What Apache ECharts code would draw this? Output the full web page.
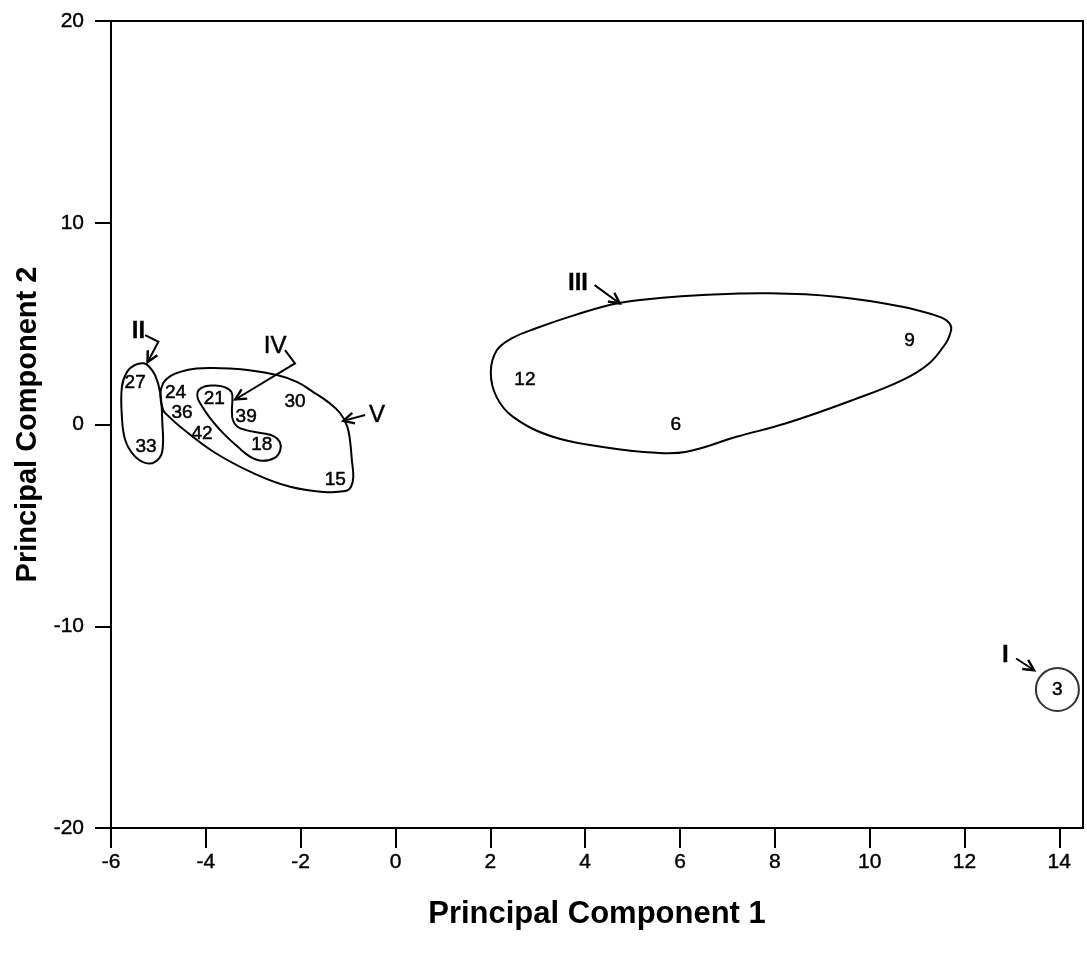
<!DOCTYPE html>
<html>
<head>
<meta charset="utf-8">
<script src="https://cdn.jsdelivr.net/npm/echarts@6/dist/echarts.min.js"></script>
<style>html,body{margin:0;padding:0;background:#fff}#c{width:1087px;height:956px}</style>
</head>
<body>
<div id="c"></div>
<script>
// ---- data ----
const xTicks = [-6, -4, -2, 0, 2, 4, 6, 8, 10, 12, 14];
const yTicks = [-20, -10, 0, 10, 20];
const pointNames = ['27', '33', '24', '36', '42', '21', '39', '18', '30', '15', '12', '6', '9'];
const pointX = [-5.49, -5.26, -4.64, -4.50, -4.08, -3.82, -3.15, -2.82, -2.12, -1.27, 2.73, 5.91, 10.84];
const pointY = [2.07, -1.11, 1.59, 0.58, -0.44, 1.29, 0.38, -1.02, 1.13, -2.72, 2.20, 0.00, 4.15];
const circledName = '3';
const circledX = 13.96;
const circledY = -13.13;

const clusterNames = ['I', 'II', 'III', 'IV', 'V'];
const clusterX = [12.86, -5.42, 3.85, -2.54, -0.39];
const clusterY = [-11.43, 4.60, 7.00, 3.85, 0.47];
const clusterBold = [true, true, true, false, false];

// cluster outlines (closed loops, data coordinates)
const loopII = [[-4.92,0.22],[-4.92,-1.35],[-5.07,-1.85],[-5.28,-1.90],[-5.52,-1.52],[-5.70,-0.77],[-5.77,0.38],[-5.77,1.87],[-5.66,2.61],[-5.49,2.95],[-5.31,3.03],[-5.21,2.90],[-5.07,2.45],[-4.96,1.54]];
const loopIV = [[-3.44,1.21],[-3.45,0.71],[-3.43,0.22],[-3.34,-0.10],[-3.15,-0.28],[-2.81,-0.43],[-2.57,-0.58],[-2.44,-0.87],[-2.43,-1.27],[-2.54,-1.64],[-2.81,-1.80],[-3.06,-1.60],[-3.32,-1.12],[-3.63,-0.44],[-3.91,0.32],[-4.12,1.05],[-4.18,1.41],[-4.15,1.71],[-4.01,1.90],[-3.80,1.93],[-3.59,1.84],[-3.46,1.61]];
const loopV = [[-3.84,2.80],[-3.49,2.77],[-3.13,2.70],[-2.50,2.45],[-2.07,2.10],[-1.74,1.62],[-1.42,1.11],[-1.17,0.57],[-1.02,-0.08],[-0.96,-0.77],[-0.92,-1.77],[-0.89,-2.59],[-0.94,-3.10],[-1.06,-3.30],[-1.52,-3.34],[-2.22,-3.09],[-2.99,-2.42],[-3.84,-1.35],[-4.54,-0.11],[-4.79,0.42],[-4.90,0.71],[-4.96,1.46],[-4.90,2.05],[-4.75,2.40],[-4.54,2.61],[-4.20,2.77]];
const loopIII = [[7.89,6.50],[9.30,6.33],[10.69,5.84],[11.37,5.42],[11.61,5.18],[11.72,4.83],[11.68,4.38],[11.61,4.04],[11.26,3.04],[10.69,2.20],[9.64,1.21],[8.24,0.06],[7.19,-0.61],[6.14,-1.35],[5.50,-1.40],[4.37,-1.11],[3.32,-0.61],[2.48,0.38],[2.13,1.37],[2.01,2.60],[2.14,3.69],[2.46,4.28],[2.98,4.78],[3.78,5.42],[4.66,6.00],[5.57,6.27],[6.48,6.42]];
const loops = [loopII, loopIV, loopV, loopIII];

// arrows (polyline, last point = tip)
const arrowI = [[13.09,-11.60],[13.47,-12.18]];
const arrowII = [[-5.28,4.43],[-5.00,4.10],[-5.23,3.09]];
const arrowIII = [[4.20,6.91],[4.73,6.00]];
const arrowIV = [[-2.33,3.69],[-2.12,3.03],[-3.38,1.24]];
const arrowV = [[-0.64,0.47],[-1.10,0.18]];
const arrows = [arrowI, arrowII, arrowIII, arrowIV, arrowV];

// ---- chart ----
const FONT = '"Liberation Sans", Arial, Helvetica, sans-serif';
const chart = echarts.init(document.getElementById('c'), null, {renderer: 'canvas'});

function textItem(api, x, y, txt, size, bold) {
  const c = api.coord([x, y]);
  return {
    type: 'text', x: c[0], y: c[1],
    style: {
      text: txt, fill: '#000', stroke: '#000', lineWidth: bold ? 0.3 : 0.5,
      font: (bold ? 'bold ' : '') + size + 'px ' + FONT,
      align: 'center', verticalAlign: 'middle', textAlign: 'center', textVerticalAlign: 'middle'
    }
  };
}

const option = {
  backgroundColor: '#fff',
  animation: false,
  grid: {left: 111, right: 4, top: 21, bottom: 128, show: true, borderColor: '#000', borderWidth: 2, containLabel: false, outerBoundsMode: 'none'},
  xAxis: {
    type: 'value', min: -6, max: 14.5, interval: 2,
    name: 'Principal Component 1', nameLocation: 'middle', nameGap: 71,
    nameTextStyle: {fontFamily: FONT, fontSize: 31, fontWeight: 'bold', color: '#000'},
    axisLine: {show: true, onZero: false, lineStyle: {color: '#000', width: 2}},
    axisTick: {show: true, inside: false, length: 20, lineStyle: {color: '#000', width: 2}, customValues: xTicks},
    axisLabel: {fontFamily: FONT, fontSize: 21, color: '#000', margin: 24, customValues: xTicks, textBorderColor: '#000', textBorderWidth: 0.4},
    splitLine: {show: false}
  },
  yAxis: {
    type: 'value', min: -20, max: 20, interval: 10,
    name: 'Principal Component 2', nameLocation: 'middle', nameGap: 64, nameRotate: 90,
    nameTextStyle: {fontFamily: FONT, fontSize: 29, fontWeight: 'bold', color: '#000'},
    axisLine: {show: true, onZero: false, lineStyle: {color: '#000', width: 2}},
    axisTick: {show: true, inside: false, length: 16, lineStyle: {color: '#000', width: 2}, customValues: yTicks},
    axisLabel: {fontFamily: FONT, fontSize: 21, color: '#000', margin: 27, customValues: yTicks, textBorderColor: '#000', textBorderWidth: 0.4},
    splitLine: {show: false}
  },
  series: [
    {
      type: 'custom', silent: true, z: 3,
      data: loops.map((l, i) => [l[0][0], l[0][1], i]),
      encode: {x: 0, y: 1},
      renderItem: function (params, api) {
        const pts = loops[api.value(2)].map(p => api.coord(p));
        return {type: 'polygon', shape: {points: pts, smooth: 0.4}, style: {stroke: '#000', lineWidth: 2, fill: null}};
      }
    },
    {
      type: 'scatter', symbol: 'circle', symbolSize: 43, silent: true, z: 4,
      itemStyle: {color: 'rgba(255,255,255,0)', borderColor: '#000', borderWidth: 2},
      data: [[circledX, circledY]]
    },
    {
      type: 'custom', silent: true, z: 5,
      data: pointNames.map((n, i) => [pointX[i], pointY[i], i]).concat([[circledX, circledY, -1]]),
      encode: {x: 0, y: 1},
      renderItem: function (params, api) {
        const i = api.value(2);
        const txt = i < 0 ? circledName : pointNames[i];
        return textItem(api, api.value(0), api.value(1), txt, 19, false);
      }
    },
    {
      type: 'custom', silent: true, z: 5,
      data: clusterNames.map((n, i) => [clusterX[i], clusterY[i], i]),
      encode: {x: 0, y: 1},
      renderItem: function (params, api) {
        const i = api.value(2);
        return textItem(api, api.value(0), api.value(1), clusterNames[i], 24, clusterBold[i]);
      }
    },
    {
      type: 'custom', silent: true, z: 6,
      data: arrows.map((a, i) => [a[a.length - 1][0], a[a.length - 1][1], i]),
      encode: {x: 0, y: 1},
      renderItem: function (params, api) {
        const pts = arrows[api.value(2)].map(p => api.coord(p));
        const T = pts[pts.length - 1], P = pts[pts.length - 2];
        let dx = T[0] - P[0], dy = T[1] - P[1];
        const len = Math.sqrt(dx * dx + dy * dy) || 1;
        dx /= len; dy /= len;
        const L = 12, a = 27 * Math.PI / 180;
        const ca = Math.cos(a), sa = Math.sin(a);
        const h1 = [T[0] - L * (dx * ca - dy * sa), T[1] - L * (dy * ca + dx * sa)];
        const h2 = [T[0] - L * (dx * ca + dy * sa), T[1] - L * (dy * ca - dx * sa)];
        return {
          type: 'group',
          children: [
            {type: 'polyline', shape: {points: pts}, style: {stroke: '#000', lineWidth: 2, fill: null}},
            {type: 'polyline', shape: {points: [h1, T, h2]}, style: {stroke: '#000', lineWidth: 2.4, fill: null}}
          ]
        };
      }
    }
  ]
};
chart.setOption(option);
</script>
</body>
</html>
